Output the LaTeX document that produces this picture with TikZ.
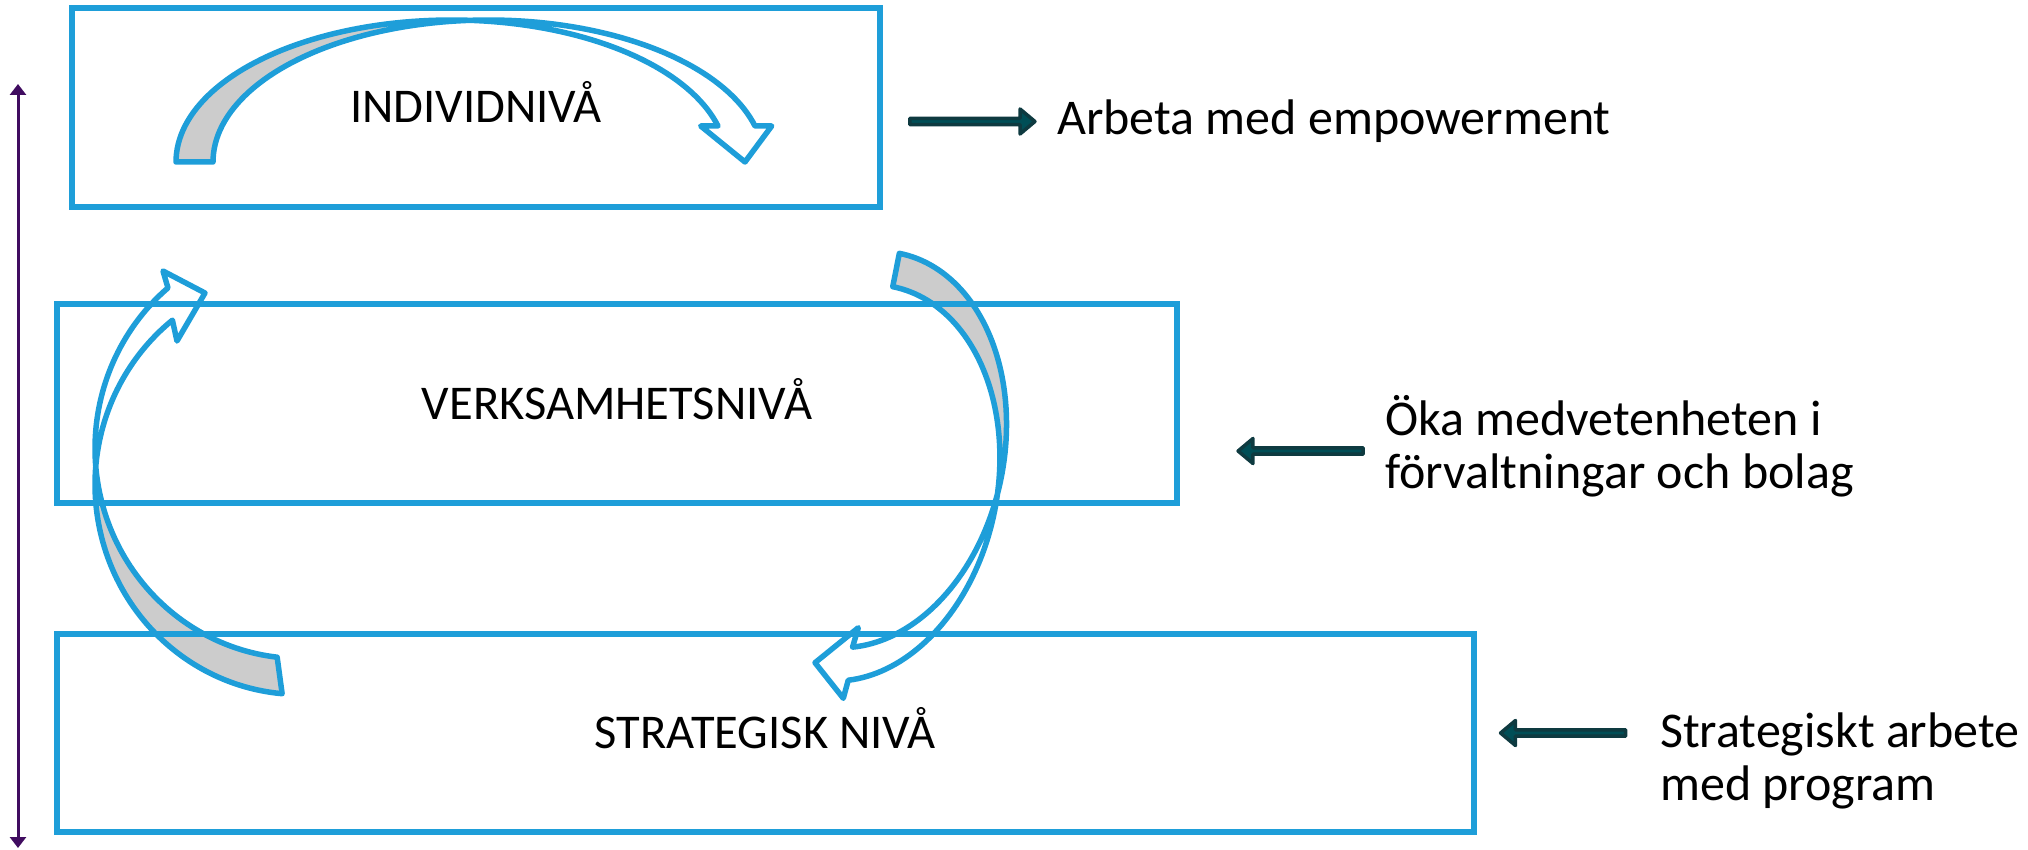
\documentclass[tikz,border=0pt]{standalone}
\usepackage{fontspec}
\setmainfont{Carlito}
\usetikzlibrary{arrows.meta,shapes.arrows}
\definecolor{boxblue}{RGB}{30,158,217}
\definecolor{backgray}{RGB}{204,204,204}
\definecolor{tealfill}{RGB}{0,78,86}
\definecolor{tealdark}{RGB}{14,58,64}
\definecolor{axispurple}{RGB}{64,12,96}
\begin{document}
\begin{tikzpicture}[x=1pt,y=-1pt,
  levelbox/.style={draw=boxblue, line width=5.5pt, inner sep=0pt, text height=31pt, text depth=0pt, font=\fontsize{48.5}{58}\selectfont},
  bandline/.style={draw=boxblue, line width=5.5pt, line join=round},
  sidetext/.style={inner sep=0pt, font=\fontsize{50}{53}\selectfont, align=left, anchor=base west},
  tealarrow/.style={single arrow, draw=tealdark, fill=tealfill, line width=3.5pt, minimum height=125pt, minimum width=25pt, single arrow head extend=5pt, single arrow tip angle=80, inner sep=0pt, line join=round}
  ]
\useasboundingbox (0,0) rectangle (2028,850);

% back faces of the curved arrows
\fill[backgray] plot[domain=180:273.85,samples=60] ({451.5+275.5*cos(\x)},{162+142*sin(\x)}) -- plot[domain=266.15:180,samples=60] ({488.5+275.5*cos(\x)},{162+142*sin(\x)}) -- cycle;
\fill[backgray] plot[domain=95:184.92,samples=60] ({300+205*cos(\x)},{484.5+210*sin(\x)}) -- plot[domain=175.08:96.4,samples=60] ({300+205*cos(\x)},{448.5+210*sin(\x)}) -- cycle;
\fill[backgray] plot[domain=-90:4.88,samples=60] ({857.2+143.5*cos(\x)*cos(11.2)-(-17+200*sin(\x))*sin(11.2)},{466.2+143.5*cos(\x)*sin(11.2)+(-17+200*sin(\x))*cos(11.2)}) -- plot[domain=-4.88:-90,samples=60] ({857.2+143.5*cos(\x)*cos(11.2)-(17+200*sin(\x))*sin(11.2)},{466.2+143.5*cos(\x)*sin(11.2)+(17+200*sin(\x))*cos(11.2)}) -- cycle;

% outlines of the curved arrows
\draw[bandline] plot[domain=180:345.31,samples=90] ({451.5+275.5*cos(\x)},{162+142*sin(\x)}) -- (700.7,126) -- (745,162) -- (771.7,126) -- plot[domain=345.31:180,samples=90] ({488.5+275.5*cos(\x)},{162+142*sin(\x)}) -- cycle;
\draw[bandline] plot[domain=95:231.5,samples=90] ({300+205*cos(\x)},{484.5+210*sin(\x)}) -- (177,341) -- (205,293) -- (163,271) -- plot[domain=229.9:96.4,samples=90] ({300+205*cos(\x)},{448.5+210*sin(\x)}) -- cycle;
\draw[bandline] plot[domain=-90:77.7,samples=90] ({857.2+143.5*cos(\x)*cos(11.2)-(-17+200*sin(\x))*sin(11.2)},{466.2+143.5*cos(\x)*sin(11.2)+(-17+200*sin(\x))*cos(11.2)}) -- (858.3,627.7) -- (815,662.7) -- (843.3,698.3) -- plot[domain=76.8:-90,samples=90] ({857.2+143.5*cos(\x)*cos(11.2)-(17+200*sin(\x))*sin(11.2)},{466.2+143.5*cos(\x)*sin(11.2)+(17+200*sin(\x))*cos(11.2)}) -- cycle;

% level boxes
\node[levelbox, minimum width=808pt, minimum height=199pt] (ind) at (476,107.5) {INDIVIDNIVÅ};
\node[levelbox, minimum width=1120pt, minimum height=199pt] (verk) at (617,403.5) {VERKSAMHETSNIVÅ};
\node[levelbox, minimum width=1417pt, minimum height=198pt] (strat) at (765.5,733) {STRATEGISK NIVÅ};

% vertical double arrow
\coordinate (vtop) at (18,84);
\coordinate (vbot) at (18,848);
\draw[axispurple, line width=3pt, {Triangle[width=16pt,length=11pt]}-{Triangle[width=16pt,length=11pt]}] (vtop) -- (vbot);

% small teal arrows
\node[tealarrow] (pA) at (970.5,121.5) {};
\node[tealarrow, shape border rotate=180] (pB) at (1302.5,451) {};
\node[tealarrow, shape border rotate=180] (pC) at (1565,733) {};

% side texts
\node[sidetext] (tA) at (1057,135) {Arbeta med empowerment};
\node[sidetext] (tB) at (1385,488) {Öka medvetenheten i\\förvaltningar och bolag};
\node[sidetext] (tC) at (1660,800) {Strategiskt arbete\\med program};
\end{tikzpicture}
\end{document}
